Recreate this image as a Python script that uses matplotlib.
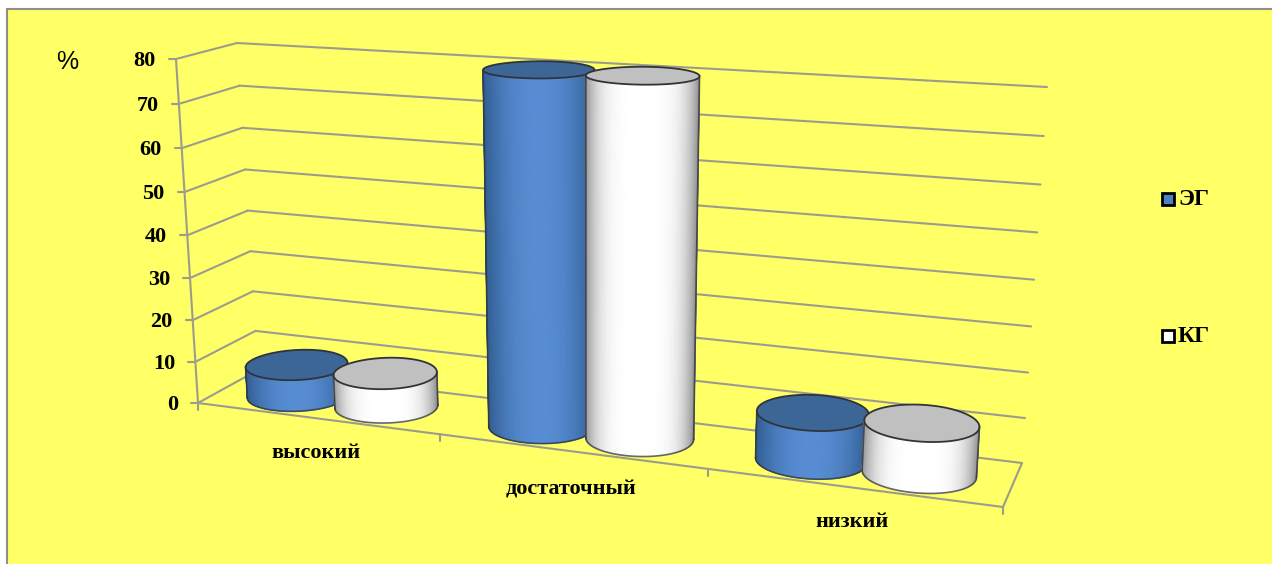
import matplotlib
matplotlib.use('Agg')
import matplotlib.pyplot as plt
from matplotlib.collections import PolyCollection
from matplotlib.patches import Polygon, Rectangle
import numpy as np

categories = ['высокий', 'достаточный', 'низкий']
series_names = ['ЭГ', 'КГ']
eg_values = [7.5, 80, 10.5]
kg_values = [8, 80, 11]
y_ticks = [0, 10, 20, 30, 40, 50, 60, 70, 80]

# corners of the fake 3d box in picture pixels: (value 0, value 80)
FRONT_LEFT = ((198, 403), (176, 59))
BACK_LEFT = ((258, 370), (237, 43))
FRONT_RIGHT = ((1003, 507), (1028, 109))
BACK_RIGHT = ((1022, 463), (1047, 87))

YELLOW = '#ffff66'
GRID = '#9c9c8c'
OUTLINE = '#30343a'
SERIF = 'Liberation Serif'


def project(u, v, d):
    # u along categories 0..1, v value, d depth 0 front .. 1 back
    u = np.asarray(u, dtype=float)
    v = np.asarray(v, dtype=float)
    d = np.asarray(d, dtype=float)
    t = v / 80
    t = t * (1 - 0.05 * (1 - t))
    p = u * (1 - 0.15 * (1 - u))

    out = []
    for k in (0, 1):
        fl = FRONT_LEFT[0][k] + (FRONT_LEFT[1][k] - FRONT_LEFT[0][k]) * t
        bl = BACK_LEFT[0][k] + (BACK_LEFT[1][k] - BACK_LEFT[0][k]) * t
        fr = FRONT_RIGHT[0][k] + (FRONT_RIGHT[1][k] - FRONT_RIGHT[0][k]) * t
        br = BACK_RIGHT[0][k] + (BACK_RIGHT[1][k] - BACK_RIGHT[0][k]) * t
        front = fl + (fr - fl) * p
        back = bl + (br - bl) * p
        out.append(front + (back - front) * d)
    return out[0], out[1]


def line3d(ax, a, b, **kw):
    xa, ya = project(*a)
    xb, yb = project(*b)
    ax.plot([xa, xb], [ya, yb], **kw)


def shade(s, dark, mid, power):
    # s is position across the cylinder, 0 left .. 1 right
    w = 1 - np.abs(2 * s - 1) ** power
    return np.array(dark) + (np.array(mid) - np.array(dark)) * w


def ring(u0, value):
    ru, rd = 0.064, 0.44
    th = np.linspace(0, 2 * np.pi, 721)
    return project(u0 + ru * np.cos(th), value, 0.5 + rd * np.sin(th))


def front_arc(x, y, n=120):
    # near side of a ring between its leftmost and rightmost points
    il, ir = np.argmin(x), np.argmax(x[:-1])
    ir = ir if ir > il else ir + 720
    idx = np.linspace(il, ir, n).astype(int) % 720
    return x[idx], y[idx]


def cylinder(ax, u0, value, dark, mid, top, power, z):
    xb, yb = front_arc(*ring(u0, 0))
    xt_ring, yt_ring = ring(u0, value)
    xt, yt = front_arc(xt_ring, yt_ring)

    quads, cols = [], []
    for a in range(len(xb) - 1):
        quads.append([(xt[a], yt[a]), (xt[a + 1], yt[a + 1]), (xb[a + 1], yb[a + 1]), (xb[a], yb[a])])
        s = (0.5 * (xb[a] + xb[a + 1]) - xb[0]) / (xb[-1] - xb[0])
        cols.append(shade(s, dark, mid, power))
    ax.add_collection(PolyCollection(quads, facecolors=cols, edgecolors=cols, linewidths=0.8, zorder=z))

    ax.add_patch(Polygon(np.c_[xt_ring, yt_ring], closed=True, facecolor=top, edgecolor=OUTLINE,
                         lw=1.3, zorder=z + 0.1))
    ax.plot(xb, yb, color=OUTLINE, lw=1.2, alpha=0.75, zorder=z + 0.1)
    for i in (0, -1):
        ax.plot([xt[i], xb[i]], [yt[i], yb[i]], color=OUTLINE, lw=1.2, alpha=0.8, zorder=z + 0.1)


fig = plt.figure(figsize=(12.72, 5.64), dpi=100, facecolor='white')
ax = fig.add_axes([0, 0, 1, 1])
ax.set_xlim(0, 1272)
ax.set_ylim(564, 0)
ax.axis('off')

ax.add_patch(Rectangle((7, 9), 1300, 600, facecolor=YELLOW, edgecolor='#8f8f8f', lw=1.5, zorder=0))

grid = dict(color=GRID, lw=1.5, zorder=1, solid_capstyle='round')

# walls
for v in y_ticks:
    line3d(ax, (0, v, 0), (0, v, 1), **grid)
    line3d(ax, (0, v, 1), (1, v, 1), **grid)
    x0, y0 = project(0, v, 0)
    ax.plot([x0 - 7, x0], [y0, y0], **grid)
    ax.text(x0 - 20, y0 + 2, str(v), ha='right', va='center', fontsize=16,
            fontweight='bold', family=SERIF, color='black', zorder=20)
line3d(ax, (0, 0, 0), (0, 80, 0), **grid)

# floor
line3d(ax, (0, 0, 0), (1, 0, 0), **grid)
line3d(ax, (1, 0, 0), (1, 0, 1), **grid)
for i in range(len(categories) + 1):
    x0, y0 = project(i / len(categories), 0, 0)
    ax.plot([x0, x0], [y0, y0 + 7], **grid)

label_dy = [34, 38, 34]
for i, name in enumerate(categories):
    xa, ya = project(i / 3, 0, 0)
    xb, yb = project((i + 1) / 3, 0, 0)
    ax.text((xa + xb) / 2 - 3, (ya + yb) / 2 + label_dy[i], name, ha='center', va='center',
            fontsize=16, fontweight='bold', family=SERIF, color='black')

blue = dict(dark=(0.19, 0.36, 0.56), mid=(0.34, 0.55, 0.83), top='#3c6695', power=2.2)
white = dict(dark=(0.58, 0.58, 0.58), mid=(1, 1, 1), top='#c0c0c0', power=4)
for i in range(len(categories)):
    cylinder(ax, (i + 0.31) / 3, eg_values[i], z=3 + 2 * i, **blue)
    cylinder(ax, (i + 0.685) / 3, kg_values[i], z=4 + 2 * i, **white)

ax.text(67, 62, '%', ha='center', va='center', fontsize=18, family='Liberation Sans', color='black')

# legend
for name, col, y, ty in zip(series_names, ['#4f81bd', 'white'], [198.5, 335.5], [199.5, 337]):
    ax.add_patch(Rectangle((1161.5, y - 6), 12, 12, facecolor=col, edgecolor='black', lw=2, zorder=3))
    ax.text(1178, ty, name, ha='left', va='center', fontsize=17, fontweight='bold',
            family=SERIF, color='black')

fig.savefig('out.png', dpi=100)
